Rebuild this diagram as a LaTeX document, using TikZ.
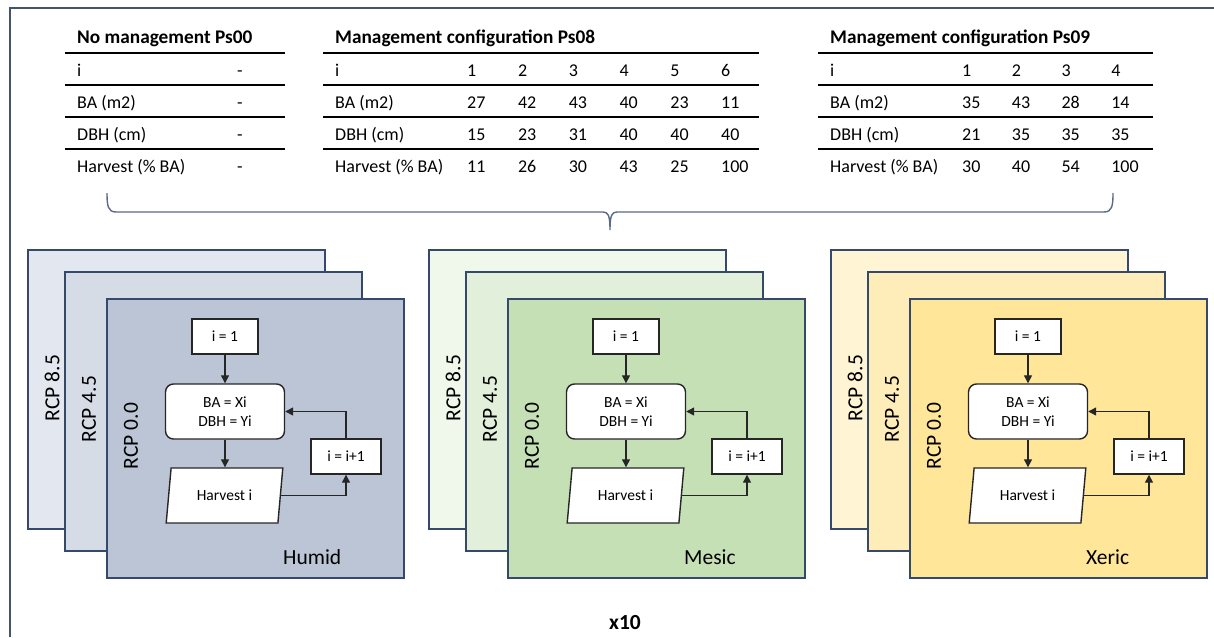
\documentclass[tikz,border=0pt]{standalone}
\usepackage{fontspec}
\setmainfont{Carlito}
\usetikzlibrary{shapes.geometric,arrows.meta}

\definecolor{frameblue}{HTML}{44546A}
\definecolor{bracegray}{HTML}{5A6A82}
\definecolor{layerblue}{HTML}{34496B}
\definecolor{flowline}{HTML}{262626}
\definecolor{h1}{HTML}{E3E7EF}
\definecolor{h2}{HTML}{D6DCE6}
\definecolor{h3}{HTML}{BBC5D5}
\definecolor{m1}{HTML}{F0F7EB}
\definecolor{m2}{HTML}{E2EFDA}
\definecolor{m3}{HTML}{C5E0B4}
\definecolor{x1}{HTML}{FFF4D4}
\definecolor{x2}{HTML}{FFEDB9}
\definecolor{x3}{HTML}{FFE699}

\tikzset{
  frame/.style={draw=frameblue, line width=2pt},
  bracepath/.style={draw=bracegray, line width=1.4pt},
  tline/.style={draw=black, line width=1.3pt},
  ttext/.style={anchor=base west, inner sep=0pt, font=\fontsize{18}{22}\selectfont},
  thead/.style={anchor=base west, inner sep=0pt, font=\fontsize{19.3}{23}\selectfont\bfseries},
  layer/.style={draw=layerblue, line width=1.5pt, anchor=north west, inner sep=0pt,
    minimum width=297pt, minimum height=279pt},
  rcp/.style={rotate=90, inner sep=0pt, font=\fontsize{21.5}{26}\selectfont},
  site/.style={anchor=west, inner sep=0pt, font=\fontsize{21.5}{26}\selectfont},
  fbox/.style={draw=flowline, line width=1.4pt, fill=white, inner sep=0pt,
    font=\fontsize{15.5}{18.5}\selectfont, align=center},
  flow/.style={draw=flowline, line width=1.3pt, -{Triangle[length=8pt,width=8pt]}},
}

\begin{document}
\begin{tikzpicture}[x=1pt,y=-1pt]
\useasboundingbox (0,0) rectangle (1214,637);

% outer frame
\draw[frame] (10,637) -- (10,8) -- (1214,8);

% ---- table: no management
\node[thead] (t0-h) at (77,43) {No management Ps00};
\foreach \lab [count=\r] in {i, BA (m2), DBH (cm), Harvest (\% BA)} {
  \node[ttext] (t0-l\r) at (77,44+32*\r) {\lab};
  \node[ttext] (t0-v\r) at (237,44+32*\r) {-};
}
\foreach \y in {53,85,117,149} \draw[tline] (65,\y) -- (285,\y);

% ---- table: Ps08
\node[thead] (t1-h) at (335,43) {Management configuration Ps08};
\foreach \lab [count=\r] in {i, BA (m2), DBH (cm), Harvest (\% BA)}
  \node[ttext] (t1-l\r) at (335,44+32*\r) {\lab};
\foreach \row [count=\r] in {{1,2,3,4,5,6},{27,42,43,40,23,11},{15,23,31,40,40,40},{11,26,30,43,25,100}}
  \foreach \v [count=\c] in \row
    \node[ttext] (t1-\r-\c) at (467+50.8*\c-50.8,44+32*\r) {\v};
\foreach \y in {53,85,117,149} \draw[tline] (323,\y) -- (759,\y);

% ---- table: Ps09
\node[thead] (t2-h) at (830,43) {Management configuration Ps09};
\foreach \lab [count=\r] in {i, BA (m2), DBH (cm), Harvest (\% BA)}
  \node[ttext] (t2-l\r) at (830,44+32*\r) {\lab};
\foreach \row [count=\r] in {{1,2,3,4},{35,43,28,14},{21,35,35,35},{30,40,54,100}}
  \foreach \v [count=\c] in \row
    \node[ttext] (t2-\r-\c) at (962+49.7*\c-49.7,44+32*\r) {\v};
\foreach \y in {53,85,117,149} \draw[tline] (818,\y) -- (1153,\y);

% ---- brace gathering the three configurations
\coordinate (brL) at (107,193);
\coordinate (brM) at (610,230);
\coordinate (brR) at (1113,193);
\draw[bracepath] (brL) .. controls (107,206) and (108,212) .. (116,212) -- (603,212)
  .. controls (608,212) and (610,215) .. (brM)
  .. controls (610,215) and (612,212) .. (617,212) -- (1104,212)
  .. controls (1112,212) and (1113,206) .. (brR);

% ---- climate stacks with the harvest loop
\foreach \k/\L/\site in {h/106/Humid, m/507/Mesic, x/909/Xeric} {
  \begin{scope}[shift={(\L,298)}]
    \node[layer, fill=\k1] (\k-back) at (-79,-49) {};
    \node[rcp] (\k-r85) at (-54,90) {RCP 8.5};
    \node[layer, fill=\k2] (\k-mid) at (-42,-27) {};
    \node[rcp] (\k-r45) at (-17,111) {RCP 4.5};
    \node[layer, fill=\k3] (\k-front) at (0,0) {};
    \node[rcp] (\k-r00) at (25,138) {RCP 0.0};
    \node[site] (\k-site) at (177,259) {\site};

    \node[fbox, minimum width=66pt, minimum height=35pt] (\k-start) at (119,38.5) {i = 1};
    \node[fbox, rounded corners=8pt, minimum width=119pt, minimum height=55pt]
      (\k-set) at (119,113.5) {BA = Xi\\DBH = Yi};
    \node[fbox, trapezium, trapezium left angle=76.7, trapezium right angle=103.3,
      trapezium stretches=true, minimum width=117pt, minimum height=55pt]
      (\k-harv) at (118.5,197.5) {Harvest i};
    \node[fbox, minimum width=70pt, minimum height=35pt] (\k-inc) at (240,158.5) {i = i+1};

    \draw[flow] (\k-start.south) -- (\k-start.south |- \k-set.north);
    \draw[flow] (\k-set.south) -- (\k-set.south |- \k-harv.north);
    \draw[flow] (\k-harv.east) -| (\k-inc.south);
    \draw[flow] (\k-inc.north) |- (\k-set.east);
  \end{scope}
}

\node[inner sep=0pt, font=\fontsize{21.5}{26}\selectfont\bfseries] (reps) at (625,623) {x10};
\end{tikzpicture}
\end{document}
